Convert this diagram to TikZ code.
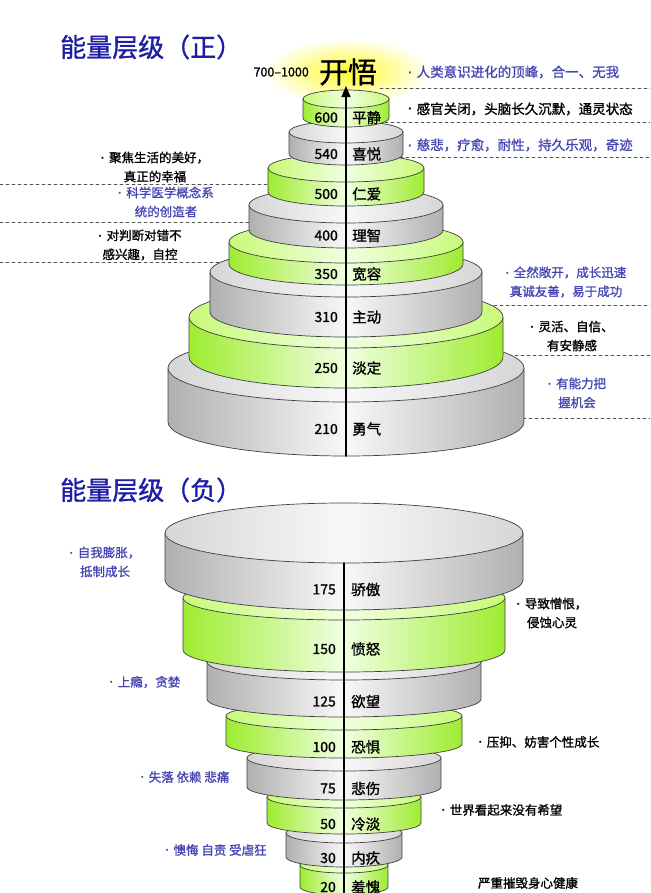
\documentclass[tikz,border=0pt]{standalone}
\usepackage{fontspec}
\setmainfont{Noto Sans CJK SC}[FakeBold=1.2]
\newfontfamily\latinfont{Liberation Sans}
\newcommand\dotmark{{\latinfont\bfseries ·}\hspace{4pt}}
\usetikzlibrary{arrows}

\definecolor{leafgreen}{RGB}{158,236,48}
\definecolor{leaftop}{RGB}{200,250,120}
\definecolor{leafglow}{RGB}{240,255,225}
\definecolor{stonegrey}{RGB}{176,176,176}
\definecolor{stonetop}{RGB}{214,214,214}
\definecolor{stoneglow}{RGB}{248,248,248}
\definecolor{inkblue}{RGB}{30,30,165}
\definecolor{noteblue}{RGB}{70,70,178}
\definecolor{guidegrey}{RGB}{85,85,85}
\definecolor{halo}{RGB}{255,250,40}

\tikzset{
  disc/.style={draw=black!75, line width=0.7pt},
  numtag/.style={anchor=east, inner sep=0pt, font=\fontsize{14}{16}\selectfont},
  wordtag/.style={anchor=west, inner sep=0pt, font=\fontsize{14.5}{16}\selectfont},
  note/.style={inner sep=0pt, align=center, font=\fontsize{12.5}{19}\selectfont},
  bluenote/.style={note, text=noteblue},
  heading/.style={anchor=west, inner sep=0pt, text=inkblue, font=\fontsize{26}{30}\selectfont},
  guide/.style={draw=guidegrey, dashed, line width=0.6pt},
}

\begin{document}
\begin{tikzpicture}[line cap=round,line join=round,>=triangle 45,x=1pt,y=-1pt]
\useasboundingbox (0,0) rectangle (650,893);

\coordinate (base) at (346,456);
\coordinate (tip) at (346,86);
\coordinate (neck) at (344,563);
\coordinate (floor) at (344,893);

\node[heading] (uptitle) at (60,47) {能量层级（正）};
\node[heading] (downtitle) at (60,490) {能量层级（负）};

\path[inner color=halo, outer color=white] (348,72) ellipse [x radius=84, y radius=34];
\node[inner sep=0pt, font=\fontsize{29}{32}\selectfont] (top) at (348,72) {开悟};
\node[inner sep=0pt, anchor=east, font=\fontsize{12.5}{14}\selectfont] (range) at (309,72) {700–1000};

% guide lines
\foreach \y/\x in {88/380, 122/385, 157/400, 305/482, 355/503, 418/523}
  \draw[guide] (\x,\y) -- (650,\y);
\foreach \y/\x in {184/270, 222/250, 262/230}
  \draw[guide] (0,\y) -- (\x,\y);

% upper stack
\foreach \cy/\rx/\ry/\h/\edge/\face/\glow/\val/\word in {
  368/178/34/54/stonegrey/stonetop/stoneglow/210/勇气,
  317/157/31/40/leafgreen/leaftop/leafglow/250/淡定,
  272/136/25/40/stonegrey/stonetop/stoneglow/310/主动,
  242/117/21/22/leafgreen/leaftop/leafglow/350/宽容,
  205/97/18/25/stonegrey/stonetop/stoneglow/400/理智,
  168/78/14/24/leafgreen/leaftop/leafglow/500/仁爱,
  132/57/11/22/stonegrey/stonetop/stoneglow/540/喜悦,
  99/43/9/19/leafgreen/leaftop/leafglow/600/平静}
{
  \draw[disc, left color=\edge, right color=\edge, middle color=\glow]
    ({346-\rx},\cy) -- ({346-\rx},{\cy+\h})
    arc[start angle=180, end angle=0, x radius=\rx, y radius=\ry]
    -- ({346+\rx},\cy) -- cycle;
  \draw[disc, left color=\face, right color=\face, middle color=\glow]
    (346,\cy) ellipse [x radius=\rx, y radius=\ry];
  \node[numtag] (num\val) at (338,{\cy+\ry+\h/2}) {\val};
  \node[wordtag] (word\val) at (352,{\cy+\ry+\h/2}) {\word};
}
\draw[->, line width=1.6pt] (base) -- (tip);

% lower stack
\foreach \cy/\rx/\ry/\h/\edge/\face/\glow/\val/\word in {
  865/44/8/22/leafgreen/leaftop/leafglow/20/羞愧,
  833/58/10/24/stonegrey/stonetop/stoneglow/30/内疚,
  797/77/11/26/leafgreen/leaftop/leafglow/50/冷淡,
  758/97/13/29/stonegrey/stonetop/stoneglow/75/悲伤,
  716/118/14/28/leafgreen/leaftop/leafglow/100/恐惧,
  662/137/18/37/stonegrey/stonetop/stoneglow/125/欲望,
  598/161/22/52/leafgreen/leaftop/leafglow/150/愤怒,
  533/179/30/47/stonegrey/stonetop/stoneglow/175/骄傲}
{
  \draw[disc, left color=\edge, right color=\edge, middle color=\glow]
    ({344-\rx},\cy) -- ({344-\rx},{\cy+\h})
    arc[start angle=180, end angle=0, x radius=\rx, y radius=\ry]
    -- ({344+\rx},\cy) -- cycle;
  \draw[disc, left color=\face, right color=\face, middle color=\glow]
    (344,\cy) ellipse [x radius=\rx, y radius=\ry];
  \node[numtag] (num\val) at (336,{\cy+\ry+\h/2+3}) {\val};
  \node[wordtag] (word\val) at (351,{\cy+\ry+\h/2+3}) {\word};
}
\draw[line width=1.3pt] (neck) -- (floor);

% notes, upper
\node[bluenote, anchor=west, font=\fontsize{13.5}{16}\selectfont] (peak) at (408,72) {\dotmark 人类意识进化的顶峰，合一、无我};
\node[note, anchor=west, font=\fontsize{13.5}{16}\selectfont] (silence) at (408,109) {\dotmark 感官关闭，头脑长久沉默，通灵状态};
\node[bluenote, anchor=west, font=\fontsize{13.5}{16}\selectfont] (mercy) at (408,145) {\dotmark 慈悲，疗愈，耐性，持久乐观，奇迹};
\node[note] (focus) at (155,167) {\dotmark 聚焦生活的美好，\\真正的幸福};
\node[bluenote] (science) at (166,202) {\dotmark 科学医学概念系\\统的创造者};
\node[note] (judge) at (140,245) {\dotmark 对判断对错不\\感兴趣，自控};
\node[bluenote] (open) at (566,282) {\dotmark 全然敞开，成长迅速\\真诚友善，易于成功};
\node[note] (calm) at (572,336) {\dotmark 灵活、自信、\\有安静感};
\node[bluenote] (chance) at (577,393) {\dotmark 有能力把\\握机会};

% notes, lower
\node[bluenote] (ego) at (105,562) {\dotmark 自我膨胀，\\抵制成长};
\node[note] (hate) at (552,613) {\dotmark 导致憎恨，\\侵蚀心灵};
\node[bluenote] (greed) at (145,682) {\dotmark 上瘾，贪婪};
\node[note] (press) at (539,742) {\dotmark 压抑、妨害个性成长};
\node[bluenote] (loss) at (185,777) {\dotmark 失落 依赖 悲痛};
\node[note] (hope) at (502,810) {\dotmark 世界看起来没有希望};
\node[bluenote] (guilt) at (216,850) {\dotmark 懊悔 自责 受虐狂};
\node[note] (ruin) at (528,883) {严重摧毁身心健康};
\end{tikzpicture}
\end{document}
